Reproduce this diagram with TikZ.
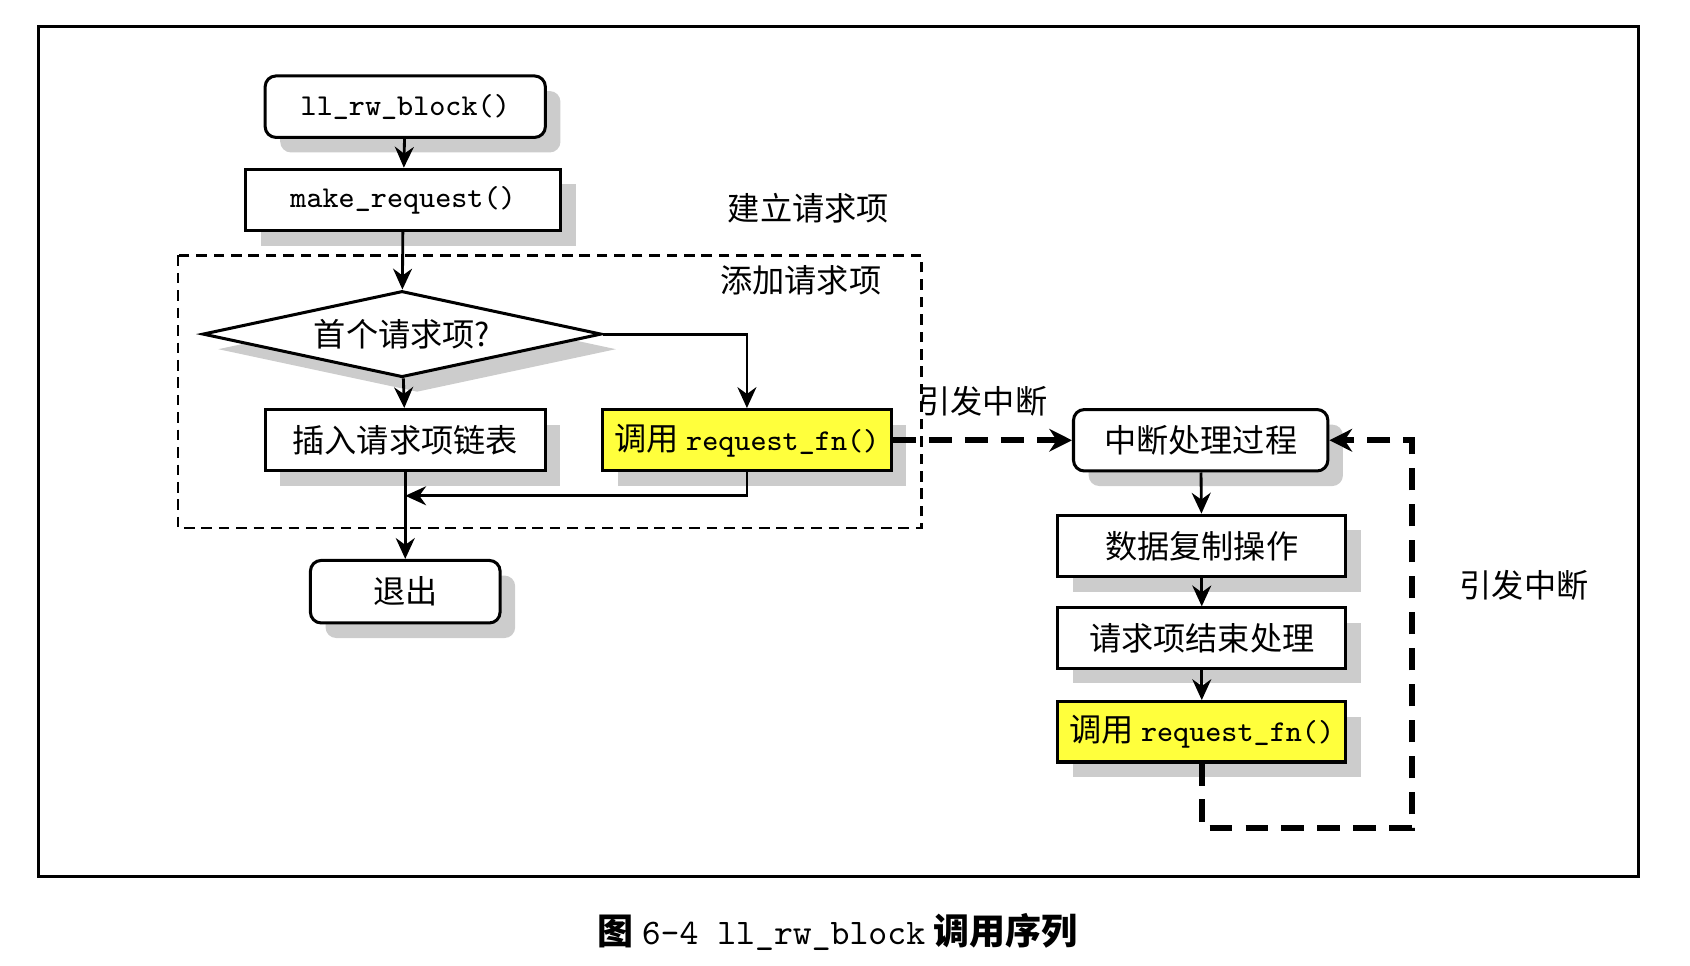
\documentclass[tikz,border=0pt]{standalone}
\usepackage{fontspec}
\setmainfont{Noto Sans CJK SC}
\usetikzlibrary{shapes.geometric, positioning, arrows.meta, shadows}
\definecolor{callyellow}{RGB}{255,255,60}

\begin{document}
\begin{tikzpicture}[
    font=\fontsize{8.5}{10}\selectfont,
    box/.style={draw, line width=0.8pt, fill=white, inner sep=0pt, minimum height=0.57cm,
        drop shadow={shadow xshift=0.14cm, shadow yshift=-0.14cm, fill=gray!40, opacity=1}},
    rbox/.style={box, rounded corners=0.1cm},
    callbox/.style={box, fill=callyellow},
    code/.style={font=\fontsize{8}{10}\ttfamily},
    link/.style={line width=0.75pt, -{Stealth[length=5.5pt,width=5pt]}},
    irq/.style={line width=1.5pt, dash pattern=on 6pt off 3.5pt, -{Stealth[length=6pt,width=6pt]}}
]
    \useasboundingbox (0,0) rectangle (15.68,8.96);
    % 外框
    \draw[line width=0.8pt] (0.36,0.83) rectangle (15.20,8.71);

    % 建立请求项
    \node[rbox, code, minimum width=2.60cm] (llrw) at (3.76,7.97) {ll\_rw\_block()};
    \node[box, code, minimum width=2.92cm] (mkreq) at (3.74,7.105) {make\_request()};
    \node at (7.50,7.03) {建立请求项};

    % 添加请求项
    \draw[line width=0.6pt, dash pattern=on 2.8pt off 1.8pt] (1.65,6.59) rectangle (8.55,4.06);
    \node at (7.43,6.36) {添加请求项};
    \node[diamond, draw, line width=0.8pt, fill=white, inner sep=0pt, aspect=4.6,
        minimum width=3.7cm, minimum height=0.8cm,
        drop shadow={shadow xshift=0.14cm, shadow yshift=-0.14cm, fill=gray!40, opacity=1}]
        (first) at (3.73,5.86) {首个请求项?};
    \node[box, minimum width=2.60cm] (insert) at (3.76,4.875) {插入请求项链表};
    \node[callbox, minimum width=2.68cm] (call) at (6.93,4.875) {调用 \texttt{\fontsize{8}{10}\selectfont request\_fn()}};
    \coordinate (merge) at (3.76,4.36);
    \node[rbox, minimum width=1.76cm, minimum height=0.58cm] (quit) at (3.76,3.47) {退出};

    \draw[link] (llrw) -- (mkreq);
    \draw[link] (mkreq) -- (first);
    \draw[link] (first) -- (insert);
    \draw[link] (first.east) -| (call.north);
    \draw[link] (call.south) |- (merge);
    \draw[link] (insert) -- (quit);

    % 中断处理
    \node at (9.12,5.24) {引发中断};
    \node[rbox, minimum width=2.36cm] (intr) at (11.14,4.875) {中断处理过程};
    \node[box, minimum width=2.67cm] (copy) at (11.15,3.895) {数据复制操作};
    \node[box, minimum width=2.67cm, minimum height=0.56cm] (finish) at (11.15,3.04) {请求项结束处理};
    \node[callbox, minimum width=2.67cm, minimum height=0.56cm] (call2) at (11.15,2.17) {调用 \texttt{\fontsize{8}{10}\selectfont request\_fn()}};
    \node at (14.14,3.53) {引发中断};
    \coordinate (loopa) at (11.15,1.28);
    \coordinate (loopb) at (13.10,1.28);

    \draw[link] (intr) -- (copy);
    \draw[link] (copy) -- (finish);
    \draw[link] (finish) -- (call2);
    \draw[irq] (call.east) -- (intr.west);
    \draw[irq] (call2.south) -- (loopa) -- (loopb) |- (intr.east);

    % 图题
    \node[font=\fontsize{9.5}{11}\selectfont] (caption) at (7.77,0.31)
        {\textbf{图} \texttt{\fontsize{9.5}{11}\selectfont 6-4 ll\_rw\_block} \textbf{调用序列}};
\end{tikzpicture}
\end{document}
